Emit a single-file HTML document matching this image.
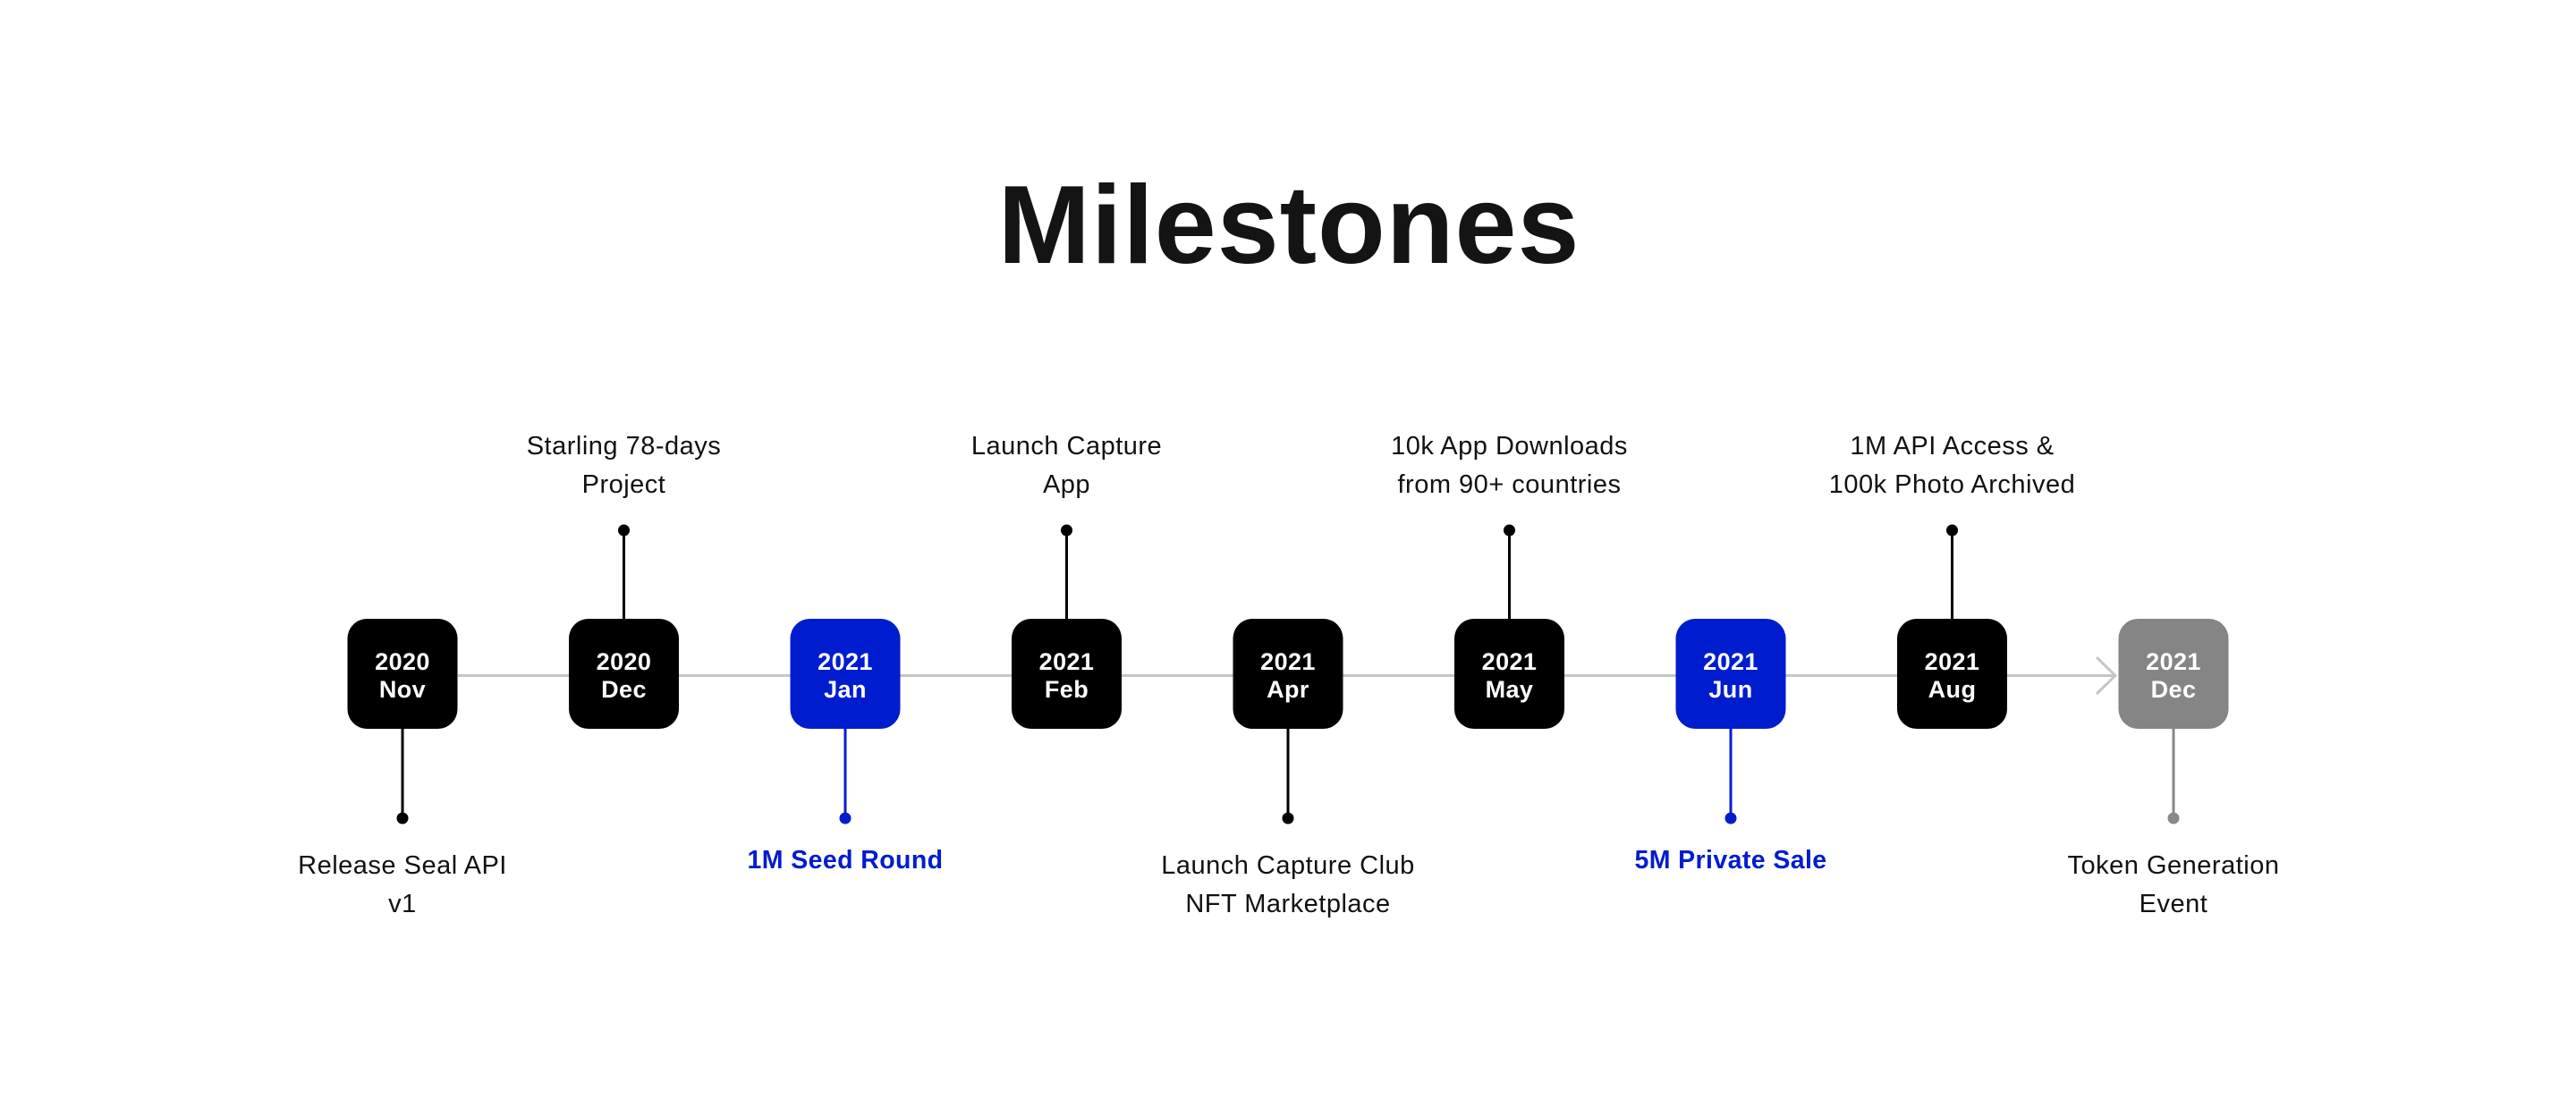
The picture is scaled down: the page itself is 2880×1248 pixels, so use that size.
<!DOCTYPE html>
<html>
<head>
<meta charset="utf-8">
<style>
  html, body { margin: 0; padding: 0; background: #ffffff; }
  body { width: 2880px; height: 1248px; overflow: hidden; }
  svg { display: block; }
  .t { font-family: "Liberation Sans", Arial, sans-serif; }
</style>
</head>
<body>
<svg width="2880" height="1248" viewBox="0 0 2880 1248" xmlns="http://www.w3.org/2000/svg">
  <rect x="0" y="0" width="2880" height="1248" fill="#ffffff"/>

  <!-- Title -->
  <text class="t" x="1441" y="294" text-anchor="middle" font-size="124" font-weight="bold" letter-spacing="1" fill="#141414">Milestones</text>

  <!-- Timeline line -->
  <line x1="512" y1="755.5" x2="2365" y2="755.5" stroke="#c6c6c6" stroke-width="3"/>
  <polyline points="2344,735 2365,755.5 2344,776" fill="none" stroke="#c6c6c6" stroke-width="3"/>

  <!-- Upper connectors -->
  <g stroke="#000" stroke-width="3">
    <line x1="697.5" y1="593" x2="697.5" y2="693"/>
    <line x1="1192.5" y1="593" x2="1192.5" y2="693"/>
    <line x1="1687.5" y1="593" x2="1687.5" y2="693"/>
    <line x1="2182.5" y1="593" x2="2182.5" y2="693"/>
  </g>
  <g fill="#000">
    <circle cx="697.5" cy="593" r="6.5"/>
    <circle cx="1192.5" cy="593" r="6.5"/>
    <circle cx="1687.5" cy="593" r="6.5"/>
    <circle cx="2182.5" cy="593" r="6.5"/>
  </g>

  <!-- Lower connectors -->
  <line x1="450" y1="814" x2="450" y2="915" stroke="#000" stroke-width="3"/>
  <circle cx="450" cy="915" r="6.5" fill="#000"/>
  <line x1="945" y1="814" x2="945" y2="915" stroke="#001ccf" stroke-width="3"/>
  <circle cx="945" cy="915" r="6.5" fill="#001ccf"/>
  <line x1="1440" y1="814" x2="1440" y2="915" stroke="#000" stroke-width="3"/>
  <circle cx="1440" cy="915" r="6.5" fill="#000"/>
  <line x1="1935" y1="814" x2="1935" y2="915" stroke="#001ccf" stroke-width="3"/>
  <circle cx="1935" cy="915" r="6.5" fill="#001ccf"/>
  <line x1="2430" y1="814" x2="2430" y2="915" stroke="#888888" stroke-width="3"/>
  <circle cx="2430" cy="915" r="6.5" fill="#888888"/>

  <!-- Boxes -->
  <g>
    <rect x="388.5" y="692" width="123" height="123" rx="22" fill="#000"/>
    <rect x="636" y="692" width="123" height="123" rx="22" fill="#000"/>
    <rect x="883.5" y="692" width="123" height="123" rx="22" fill="#001ccf"/>
    <rect x="1131" y="692" width="123" height="123" rx="22" fill="#000"/>
    <rect x="1378.5" y="692" width="123" height="123" rx="22" fill="#000"/>
    <rect x="1626" y="692" width="123" height="123" rx="22" fill="#000"/>
    <rect x="1873.5" y="692" width="123" height="123" rx="22" fill="#001ccf"/>
    <rect x="2121" y="692" width="123" height="123" rx="22" fill="#000"/>
    <rect x="2368.5" y="692" width="123" height="123" rx="22" fill="#858585"/>
  </g>

  <!-- Box text -->
  <g class="t" font-size="27" font-weight="bold" letter-spacing="0.4" fill="#ffffff" text-anchor="middle">
    <text x="450" y="749">2020</text><text x="450" y="780">Nov</text>
    <text x="697.5" y="749">2020</text><text x="697.5" y="780">Dec</text>
    <text x="945" y="749">2021</text><text x="945" y="780">Jan</text>
    <text x="1192.5" y="749">2021</text><text x="1192.5" y="780">Feb</text>
    <text x="1440" y="749">2021</text><text x="1440" y="780">Apr</text>
    <text x="1687.5" y="749">2021</text><text x="1687.5" y="780">May</text>
    <text x="1935" y="749">2021</text><text x="1935" y="780">Jun</text>
    <text x="2182.5" y="749">2021</text><text x="2182.5" y="780">Aug</text>
    <text x="2430" y="749">2021</text><text x="2430" y="780">Dec</text>
  </g>

  <!-- Upper labels -->
  <g class="t" font-size="29" letter-spacing="0.5" fill="#111" text-anchor="middle">
    <text x="697.5" y="508">Starling 78-days</text><text x="697.5" y="551">Project</text>
    <text x="1192.5" y="508">Launch Capture</text><text x="1192.5" y="551">App</text>
    <text x="1687.5" y="508">10k App Downloads</text><text x="1687.5" y="551">from 90+ countries</text>
    <text x="2182.5" y="508">1M API Access &amp;</text><text x="2182.5" y="551">100k Photo Archived</text>
  </g>

  <!-- Lower labels -->
  <g class="t" font-size="29" letter-spacing="0.5" fill="#111" text-anchor="middle">
    <text x="450" y="977">Release Seal API</text><text x="450" y="1020">v1</text>
    <text x="1440" y="977">Launch Capture Club</text><text x="1440" y="1020">NFT Marketplace</text>
    <text x="2430" y="977">Token Generation</text><text x="2430" y="1020">Event</text>
  </g>
  <g class="t" font-size="28.5" font-weight="bold" letter-spacing="0.4" fill="#001ccf" text-anchor="middle">
    <text x="945" y="971">1M Seed Round</text>
    <text x="1935" y="971">5M Private Sale</text>
  </g>
</svg>
</body>
</html>
